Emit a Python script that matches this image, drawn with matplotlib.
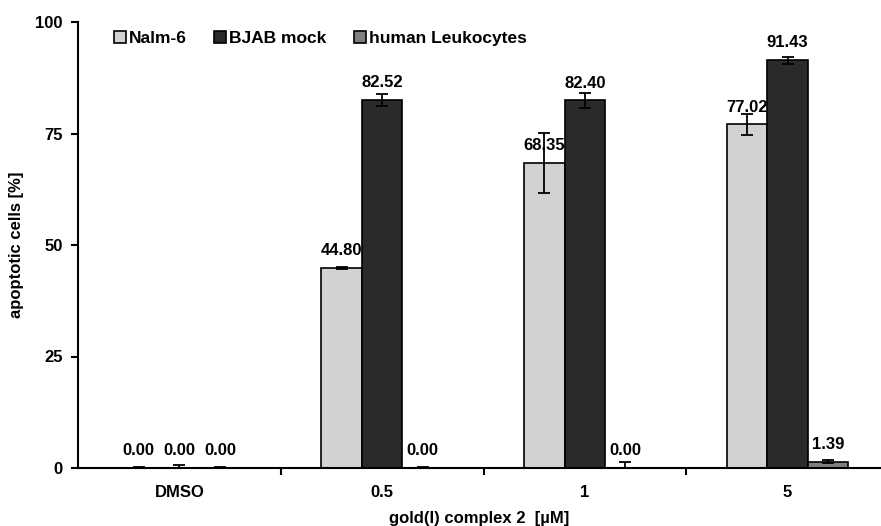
import matplotlib
matplotlib.use("Agg")
import matplotlib.pyplot as plt
import numpy as np
from matplotlib.ticker import FixedLocator

plt.rcParams['font.family'] = ['Liberation Sans', 'DejaVu Sans']
plt.rcParams['font.weight'] = 'bold'

categories = ["DMSO", "0.5", "1", "5"]
series_names = ["Nalm-6", "BJAB mock", "human Leukocytes"]
nalm6 = [0.00, 44.80, 68.35, 77.02]
bjab = [0.00, 82.52, 82.40, 91.43]
leuko = [0.00, 0.00, 0.00, 1.39]
nalm6_err = [0.2, 0.2, 6.7, 2.3]
bjab_err = [0.7, 1.3, 1.7, 0.8]
leuko_err = [0.2, 0.2, 1.3, 0.3]
yticks = [0, 25, 50, 75, 100]

colors = ["#d2d2d2", "#2a2a2a", "#7f7f7f"]

fig = plt.figure(figsize=(8.81, 5.26), dpi=100)
ax = fig.add_axes([78/881, 58/526, (881-78)/881, 446/526])

x = np.arange(len(categories))
w = 0.2
data = [nalm6, bjab, leuko]
errs = [nalm6_err, bjab_err, leuko_err]
for i, (vals, er, c, name) in enumerate(zip(data, errs, colors, series_names)):
    pos = x + (i - 1) * w
    ax.bar(pos, vals, w, color=c, edgecolor='black', linewidth=1.2, label=name, zorder=2)
    ax.errorbar(pos, vals, yerr=er, fmt='none', ecolor='black', elinewidth=1.3,
                capsize=4, capthick=1.3, zorder=3)
    for p, v in zip(pos, vals):
        ax.annotate(f"{v:.2f}", (p, v), xytext=(0, 7), textcoords='offset points',
                    ha='center', va='bottom', fontsize=12, fontweight='bold', zorder=4)

ax.set_ylim(0, 100)
ax.set_xlim(-0.5, -0.5 + (881 - 78) / 202.75)
ax.set_yticks(yticks)
ax.set_yticklabels([str(t) for t in yticks], fontsize=12, fontweight='bold')
ax.set_xticks(x)
ax.set_xticklabels(categories, fontsize=12, fontweight='bold')
ax.tick_params(axis='x', which='major', length=0, pad=12)
ax.xaxis.set_minor_locator(FixedLocator([0.5, 1.5, 2.5]))
ax.tick_params(axis='x', which='minor', length=5, width=1.5, direction='out')
ax.tick_params(axis='y', length=5, width=1.5, direction='out', pad=6)
for s in ['top', 'right']:
    ax.spines[s].set_visible(False)
for s in ['left', 'bottom']:
    ax.spines[s].set_linewidth(1.5)

ax.set_ylabel("apoptotic cells [%]", fontsize=12, fontweight='bold', labelpad=8)
ax.set_xlabel("gold(I) complex 2  [µM]", fontsize=12, fontweight='bold', labelpad=8)

ax.legend(loc='upper left', bbox_to_anchor=(0.025, 1.015), ncol=3, frameon=False,
          handlelength=0.7, handleheight=0.7, handletextpad=0.15,
          columnspacing=1.6, prop={'weight': 'bold', 'size': 12.5})

fig.savefig("out.png", dpi=100)
